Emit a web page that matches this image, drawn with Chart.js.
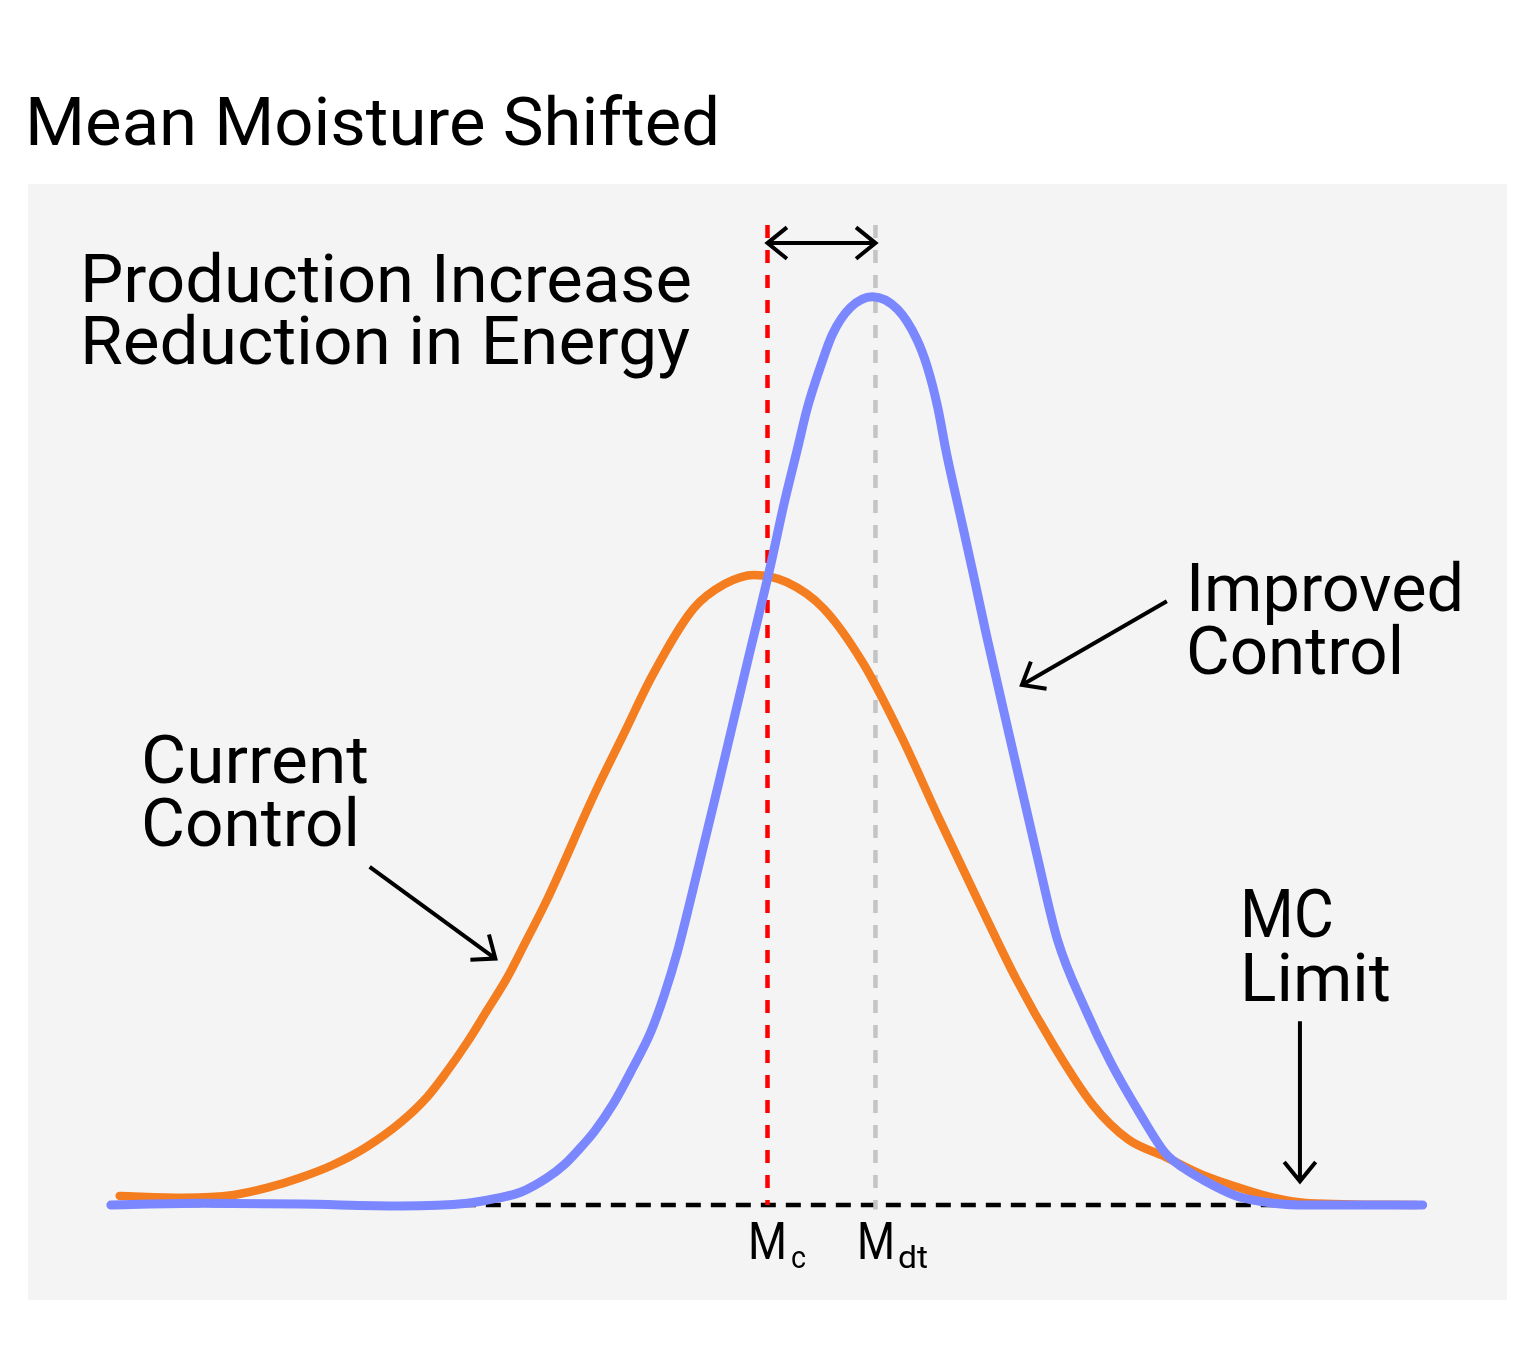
<!DOCTYPE html>
<html>
<head>
<meta charset="utf-8">
<script src="https://cdn.jsdelivr.net/npm/chart.js@4.4.0/dist/chart.umd.min.js"></script>
<style>
  html, body { margin: 0; padding: 0; background: #fff; }
  #wrap { width: 1514px; height: 1357px; position: relative; }
</style>
</head>
<body>
<div id="wrap"><canvas id="moistureChart"></canvas></div>
<script>
// moisture runs 0-100 across the grey panel, density is relative (improved peak ~ 100)
const currentX = [6.2, 10.5, 13.9, 16.2, 18.4, 20.6, 22.9, 25.2, 27.0, 28.2, 29.7, 31.0, 32.4, 33.7, 35.1, 38.3, 40.4, 42.2, 45.0, 47.1, 49.1, 51.3, 53.8, 56.5, 59.0, 61.6, 64.4, 66.8, 69.4, 72.0, 74.4, 76.9, 79.3, 81.7, 84.2, 86.6, 93.9];
const currentY = [1.0, 0.8, 1.1, 1.9, 3.0, 4.4, 6.4, 9.1, 11.9, 14.4, 17.9, 21.3, 25.0, 29.1, 33.6, 45.2, 52.2, 58.2, 65.6, 68.3, 69.3, 68.5, 65.6, 59.5, 51.7, 42.5, 32.9, 24.9, 17.4, 11.0, 7.2, 5.3, 3.4, 2.0, 0.8, 0.2, 0];
const improvedX = [5.6, 11.6, 18.4, 25.2, 29.7, 31.9, 33.3, 35.1, 36.3, 37.3, 38.3, 39.6, 40.9, 42.1, 43.0, 43.9, 44.8, 46.6, 48.7, 50.2, 51.1, 52.0, 52.7, 53.6, 54.4, 55.6, 57.1, 58.8, 60.1, 60.8, 61.5, 62.1, 63.0, 63.9, 64.8, 66.5, 68.2, 69.6, 71.5, 73.2, 75.2, 76.9, 78.1, 79.3, 81.7, 84.2, 86.6, 94.3];
const improvedY = [0, 0.2, 0.1, -0.1, 0.2, 0.8, 1.4, 3.0, 4.5, 6.2, 8.1, 11.2, 15.1, 19.0, 23.0, 27.8, 33.6, 45.7, 60.1, 70.3, 77.0, 83.0, 87.7, 92.3, 95.8, 98.7, 99.9, 98.5, 95.2, 92.2, 87.8, 82.7, 76.1, 69.5, 62.7, 50.6, 38.6, 29.2, 21.5, 15.7, 10.0, 5.7, 4.1, 2.9, 1.0, 0.2, 0, 0];

const meanCurrent = 50.0;
const meanImproved = 57.3;
const baselineRange = [5.6, 94.3];
const markerTop = 107.8;

const FONT = 'Roboto, "Liberation Sans", sans-serif';

const toPoints = (xs, ys) => xs.map((x, i) => ({ x: x, y: ys[i] }));

const panelBackground = {
    id: 'panelBackground',
    beforeDraw(chart) {
        const { ctx, chartArea: a } = chart;
        ctx.save();
        ctx.fillStyle = '#f4f4f4';
        ctx.fillRect(a.left, a.top, a.right - a.left, a.bottom - a.top);
        ctx.restore();
    }
};

function drawHead(ctx, fx, fy, tx, ty) {
    const ang = Math.atan2(ty - fy, tx - fx);
    const len = 25, spread = 0.68;
    ctx.beginPath();
    ctx.moveTo(tx - len * Math.cos(ang - spread), ty - len * Math.sin(ang - spread));
    ctx.lineTo(tx, ty);
    ctx.lineTo(tx - len * Math.cos(ang + spread), ty - len * Math.sin(ang + spread));
    ctx.stroke();
}

function drawArrow(ctx, x1, y1, x2, y2, both) {
    ctx.beginPath();
    ctx.moveTo(x1, y1);
    ctx.lineTo(x2, y2);
    ctx.stroke();
    drawHead(ctx, x1, y1, x2, y2);
    if (both) drawHead(ctx, x2, y2, x1, y1);
}

// the original face is a bit wider than Roboto, so stretch each line to its width
function fitText(ctx, text, x, y, width) {
    const w = ctx.measureText(text).width;
    ctx.save();
    ctx.translate(x, y);
    ctx.scale(width / w, 1);
    ctx.fillText(text, 0, 0);
    ctx.restore();
}

// arrows and labels, given in data units so they follow the scales
const notes = {
    id: 'notes',
    afterDraw(chart) {
        const { ctx } = chart;
        const sx = v => chart.scales.x.getPixelForValue(v);
        const sy = v => chart.scales.y.getPixelForValue(v);
        ctx.save();
        ctx.strokeStyle = '#000';
        ctx.lineWidth = 4;
        ctx.lineCap = 'butt';
        ctx.lineJoin = 'miter';

        drawArrow(ctx, sx(meanCurrent), sy(105.8), sx(meanImproved), sy(105.8), true);
        drawArrow(ctx, sx(23.1), sy(37.2), sx(31.6), sy(27.1), false);
        drawArrow(ctx, sx(77.0), sy(66.4), sx(67.2), sy(57.2), false);
        drawArrow(ctx, sx(86.0), sy(20.2), sx(86.0), sy(2.6), false);

        ctx.fillStyle = '#000';
        ctx.textAlign = 'left';
        ctx.textBaseline = 'alphabetic';

        ctx.font = '67px ' + FONT;
        fitText(ctx, 'Mean Moisture Shifted', 25, 145, 695);

        ctx.font = '66px ' + FONT;
        const lines = [
            ['Production Increase', 80, 302, 612],
            ['Reduction in Energy', 80, 364, 610],
            ['Current', 141, 783, 228],
            ['Control', 141, 846, 219],
            ['Improved', 1186, 611, 278],
            ['Control', 1186, 674, 218],
            ['MC', 1240, 937, 94],
            ['Limit', 1240, 1001, 151]
        ];
        lines.forEach(([t, x, y, w]) => fitText(ctx, t, x, y, w));

        ctx.font = '51px ' + FONT;
        fitText(ctx, 'M', 748, 1259, 39);
        fitText(ctx, 'M', 857, 1259, 38);
        ctx.font = '32px ' + FONT;
        fitText(ctx, 'c', 791, 1268, 15);
        fitText(ctx, 'dt', 898, 1268, 30);
        ctx.restore();
    }
};

new Chart(document.getElementById('moistureChart'), {
    type: 'line',
    data: {
        datasets: [
            {
                label: 'Improved Control',
                data: toPoints(improvedX, improvedY),
                borderColor: '#7b87ff',
                borderWidth: 9,
                borderCapStyle: 'round',
                cubicInterpolationMode: 'monotone',
                pointRadius: 0,
                order: 1
            },
            {
                label: 'Current Control',
                data: toPoints(currentX, currentY),
                borderColor: '#f47d20',
                borderWidth: 8.5,
                borderCapStyle: 'round',
                cubicInterpolationMode: 'monotone',
                pointRadius: 0,
                order: 2
            },
            {
                label: 'Mc',
                data: [{ x: meanCurrent, y: markerTop }, { x: meanCurrent, y: 0 }],
                borderColor: '#ff0000',
                borderWidth: 4.5,
                borderDash: [13, 12],
                tension: 0,
                pointRadius: 0,
                order: 3
            },
            {
                label: 'Mdt',
                data: [{ x: meanImproved, y: markerTop }, { x: meanImproved, y: -0.5 }],
                borderColor: '#c4c4c4',
                borderWidth: 4.5,
                borderDash: [13, 12],
                tension: 0,
                pointRadius: 0,
                order: 4
            },
            {
                label: 'baseline',
                data: [{ x: baselineRange[0], y: 0 }, { x: baselineRange[1], y: 0 }],
                borderColor: '#000',
                borderWidth: 4.5,
                borderDash: [15, 10],
                tension: 0,
                pointRadius: 0,
                order: 5
            }
        ]
    },
    options: {
        responsive: true,
        maintainAspectRatio: false,
        animation: false,
        layout: { padding: { left: 28, top: 184, right: 7, bottom: 57 } },
        plugins: {
            legend: { display: false },
            tooltip: { enabled: false }
        },
        scales: {
            x: { type: 'linear', min: 0, max: 100, display: false },
            y: { type: 'linear', min: -10.45, max: 112.3, display: false }
        }
    },
    plugins: [panelBackground, notes]
});
</script>
</body>
</html>
